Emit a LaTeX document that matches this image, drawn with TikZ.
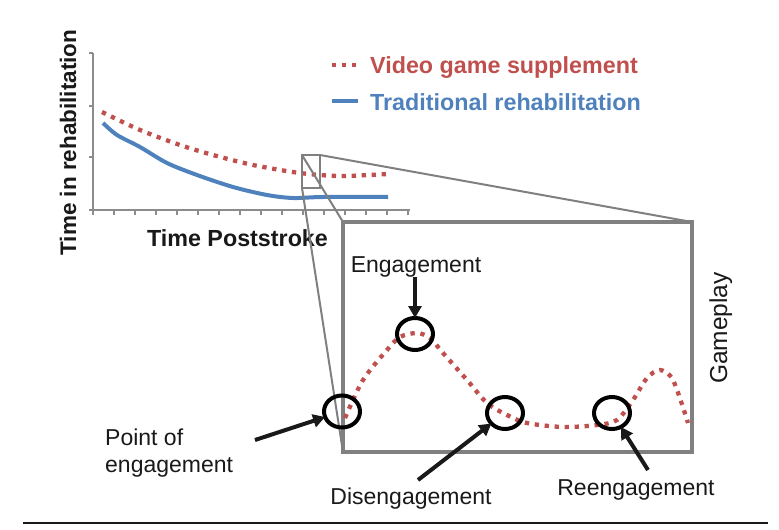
\documentclass[tikz,border=0pt]{standalone}
\usepackage{fontspec}
\setmainfont{Liberation Sans}
\usetikzlibrary{arrows.meta,shapes.geometric}
\definecolor{xred}{RGB}{192,80,77}
\definecolor{xblue}{RGB}{79,129,189}
\definecolor{xgray}{RGB}{128,128,128}
\definecolor{axgray}{RGB}{140,140,140}
\definecolor{ink}{RGB}{25,25,25}
\begin{document}
\begin{tikzpicture}[x=1pt,y=-1pt,
  reddots/.style={xred,line width=4.3pt,dash pattern=on 4.3pt off 5.7pt},
  blueline/.style={xblue,line width=4pt},
  axisline/.style={axgray,line width=1.5pt},
  zoomline/.style={xgray,line width=2pt},
  ring/.style={ellipse,draw=black,line width=4pt,minimum width=36pt,minimum height=32pt,inner sep=0pt,outer sep=0pt},
  arr/.style={ink,line width=4pt,-{Triangle[length=12pt,width=13pt]}},
  lbl/.style={font=\fontsize{23}{27}\selectfont,text=ink,inner sep=0pt},
  chartlbl/.style={font=\fontsize{23.3}{27}\selectfont\bfseries,inner sep=0pt}]
\useasboundingbox (0,0) rectangle (779,530);
% chart axes
\draw[axisline] (93,53) -- (93,210) -- (410,210);
\foreach \yy in {53,106,157,210} \draw[axisline] (89,\yy) -- (93,\yy);
\foreach \k in {0,...,15} \draw[axisline] ({93+21*\k},210) -- ({93+21*\k},215);
% data
\draw[reddots] plot[smooth] coordinates {(102,112) (140,130) (180,145) (213,155) (253,165) (300,173) (340,176) (388,174)};
\draw[blueline] plot[smooth] coordinates {(103,123) (117,135) (140,147) (167,163) (197,175) (233,187) (267,195) (293,198) (323,197) (388,197)};
% legend
\draw[reddots] (332,65) -- (360,65);
\draw[blueline] (332,101) -- (358,101);
\node[chartlbl,text=xred,anchor=base west] (legR) at (370,73) {Video game supplement};
\node[chartlbl,text=xblue,anchor=base west] (legB) at (370,110) {Traditional rehabilitation};
% axis labels
\node[chartlbl,text=ink,anchor=base] (xlab) at (237.5,246) {Time Poststroke};
\node[chartlbl,font=\fontsize{22.5}{27}\selectfont\bfseries,text=ink,rotate=90,anchor=base] (ylab) at (76,142.5) {Time in rehabilitation};
% zoom box
\node[draw=xgray,line width=3.5pt,minimum width=349pt,minimum height=230pt,inner sep=0pt,outer sep=0pt] (box) at (517.5,337) {};
\node[draw=xgray,line width=2pt,minimum width=18pt,minimum height=33pt,inner sep=0pt,outer sep=0pt] (sq) at (311,171.5) {};
\draw[zoomline] (sq.north west) -- (box.north west);
\draw[zoomline] (sq.north east) -- (box.north east);
\draw[zoomline] (sq.south west) -- (box.south west);
% gameplay curve
\draw[reddots] plot[smooth] coordinates {(345,418) (363,380) (387,350) (400,337) (417,333) (430,338) (443,353) (467,380) (487,403) (507,415) (527,423) (563,427) (597,425) (617,420) (633,400) (647,378) (660,370) (673,380) (688,423)};
% rings
\node[ring] (cP) at (342,411.5) {};
\node[ring] (cE) at (415,334) {};
\node[ring] (cD) at (505,413) {};
\node[ring] (cR) at (612,413) {};
% labels
\node[lbl,anchor=base] (lE) at (416,272) {Engagement};
\node[lbl,anchor=base west,align=left] (lP) at (105,472) {Point of\\engagement};
\node[lbl,anchor=base] (lD) at (411,504) {Disengagement};
\node[lbl,anchor=base] (lR) at (636,495) {Reengagement};
\node[lbl,font=\fontsize{24.5}{28}\selectfont,rotate=90,anchor=base] (lG) at (727,328) {Gameplay};
% arrows
\coordinate (tP) at (255,440);
\coordinate (tD) at (418,480);
\coordinate (tR) at (648,470);
\draw[arr] (cE.north |- lE.south) -- (cE.north);
\draw[arr] (tP) -- (cP);
\draw[arr] (tD) -- (cD);
\draw[arr] (tR) -- (cR);
% bottom rule
\draw[ink,line width=2pt] (23,523) -- (768,523);
\end{tikzpicture}
\end{document}
